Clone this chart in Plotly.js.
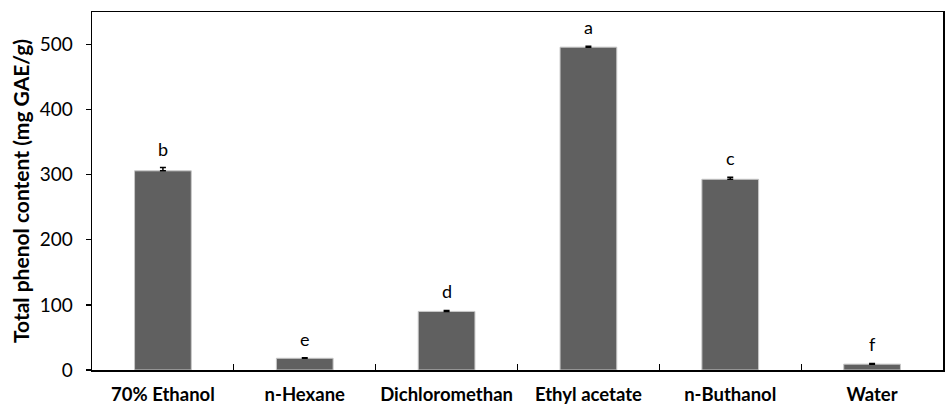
<!DOCTYPE html>
<html><head><meta charset="utf-8">
<script src="https://cdn.plot.ly/plotly-3.0.1.min.js"></script>
<style>html,body{margin:0;padding:0;background:#fff}</style>
</head><body><div id="chart" style="width:945px;height:406px"></div>
<script>
const categories = ["70% Ethanol", "n-Hexane", "Dichloromethan", "Ethyl acetate", "n-Buthanol", "Water"];
const values = [306, 18, 90, 496, 293, 9];
const errors = [5, 1, 1.5, 1.5, 3, 1];
const letters = ["b", "e", "d", "a", "c", "f"];

const trace = {
  type: "bar", x: categories, y: values, width: 0.4,
  marker: {color: "#606060", line: {color: "#c8c8c8", width: 1}},
  error_y: {type: "data", array: errors, visible: true, color: "#000", thickness: 1.5, width: 3, symmetric: false, arrayminus: errors.map(()=>0)},
  hoverinfo: "none"
};
const annotations = categories.map((c, i) => ({
  x: c, y: values[i] + errors[i], text: letters[i], showarrow: false,
  yanchor: "bottom", yshift: 6, font: {family: "Lato, 'Open Sans', sans-serif", size: 18, color: "#000"}
}));
const layout = {
  width: 945, height: 406,
  margin: {l: 92, r: 2, t: 12, b: 36},
  paper_bgcolor: "#fff", plot_bgcolor: "#fff",
  showlegend: false, bargap: 0.6,
  font: {family: "Lato, 'Open Sans', sans-serif", color: "#000"},
  xaxis: {
    type: "category", tickson: "boundaries", ticks: "inside", ticklen: 6, tickwidth: 1.2, tickcolor: "#000",
    showline: true, linecolor: "#000", linewidth: 1.5, mirror: true, showgrid: false, tickangle: 0,
    tickfont: {size: 18.5, family: "Lato, sans-serif", weight: "bold"}, ticklabelstandoff: 7
  },
  yaxis: {
    range: [0, 550], tickvals: [0,100,200,300,400,500], ticks: "outside", ticklen: 5, tickwidth: 1.2, tickcolor: "#000",
    showline: true, linecolor: "#000", linewidth: 1.5, mirror: true, showgrid: false, zeroline: false,
    tickfont: {size: 19}, ticklabelstandoff: 9,
    title: {text: "Total phenol content (mg GAE/g)", font: {size: 21, weight: "bold"}, standoff: 4}
  },
  annotations: annotations
};
Plotly.newPlot("chart", [trace], layout, {staticPlot: true});
</script></body></html>
